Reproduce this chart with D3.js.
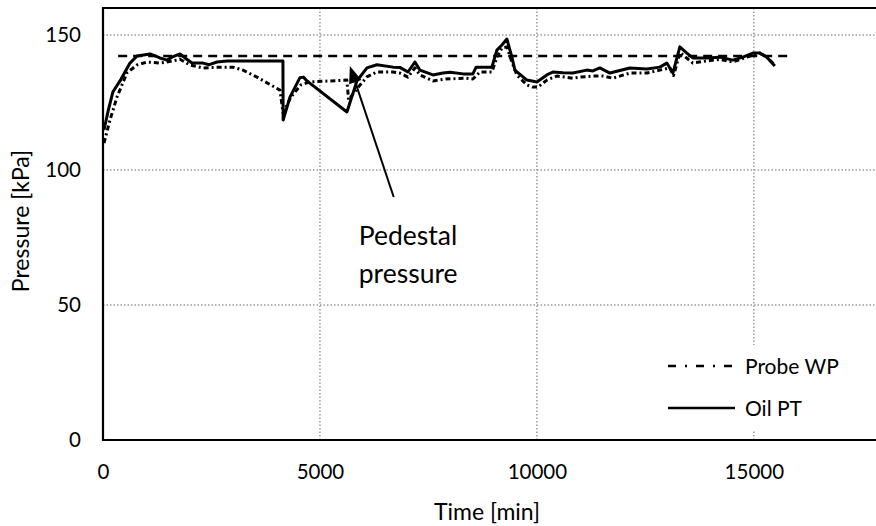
<!DOCTYPE html>
<html>
<head>
<meta charset="utf-8">
<script src="https://cdn.jsdelivr.net/npm/d3@7"></script>
<style>
  html, body { margin: 0; padding: 0; background: #fff; }
  svg { display: block; font-family: Lato, "Open Sans", sans-serif; }
</style>
</head>
<body>
<svg id="chart" width="876" height="526"></svg>
<script>
// Time [min] / pressure [kPa] pairs for each series
const oilPT = [
  [23,114.8],[120,122],[230,129],[392,133],[622,139.6],[783,142.2],[1083,143],[1313,141.5],
  [1475,140.7],[1590,141.8],[1774,143],[1889,141.5],[2051,139.6],[2304,139.6],[2450,139],
  [2627,140],[2857,140.4],[3157,140.4],[4147,140.4],[4152,118.5],[4309,127],[4539,134.2],
  [4620,134.4],[4700,133],[5622,121.5],[5853,133],[6083,137.8],[6313,139],[6682,138.1],
  [6843,138],[7028,136.3],[7189,140],[7304,137],[7604,135.2],[7834,135.9],[8000,136.2],
  [8300,135.6],[8525,135.6],[8600,138.1],[8963,138.1],[9078,144.4],[9194,146.3],[9309,148.5],
  [9424,141.8],[9493,137],[9770,133.3],[10000,132.6],[10230,135.2],[10369,136.3],[10600,136],
  [10829,135.9],[11152,137],[11290,136.7],[11452,137.8],[11682,135.9],[12143,137.8],
  [12535,137.4],[12834,138.1],[12995,139.6],[13134,135.9],[13295,145.6],[13456,143.3],
  [13594,141.5],[13917,141.5],[14217,141.8],[14516,140.7],[14747,141.8],[14977,143.3],
  [15138,143.3],[15300,141.8],[15484,138.5]
];

const probeWP = [
  [23,110],[161,118.5],[322,127],[553,136],[783,138.9],[1014,140],[1313,139.6],[1613,140.4],
  [1774,141],[2005,138.9],[2304,137.8],[2696,138.1],[2995,138.1],[3226,137],[3548,134.4],
  [4078,129.6],[4152,121],[4330,127],[4560,131.5],[4750,132.6],[5620,133.3],[5660,126],
  [5900,131],[6083,134.5],[6313,136.3],[6682,136.3],[6843,135.9],[7028,134.4],[7189,137.8],
  [7304,135.2],[7604,133],[7900,133.7],[8370,134],[8525,133.7],[8687,136.3],[8963,136.3],
  [9078,141.8],[9194,145.2],[9309,145.6],[9424,140],[9539,135.2],[9770,131.5],[9908,130.7],
  [10023,130.7],[10230,133.3],[10461,134.8],[10829,134],[10991,134.4],[11290,134.8],
  [11520,134.8],[11751,134],[12143,135.9],[12535,135.9],[12834,137],[13065,137.8],
  [13150,135],[13300,143.5],[13594,139.6],[13917,140.4],[14217,141],[14516,140],
  [14839,141.8],[15138,143.3],[15300,141.8],[15484,138.8]
];

// Pedestal pressure reference level
const pedestalLevel = [[350,142.2],[15880,142.2]];

const xTicks = [0, 5000, 10000, 15000];
const yTicks = [0, 50, 100, 150];
const xDomain = [0, 18000];
const yDomain = [0, 160];

// Annotation: arrow tail/tip and label lines (data units)
const arrowTail = [6700, 90];
const arrowTip = [5690, 138.5];
const noteLines = ["Pedestal", "pressure"];
const notePos = [5895, 72.2];

const svg = d3.select("#chart");
const x = d3.scaleLinear().domain(xDomain).range([103, 884]);
const y = d3.scaleLinear().domain(yDomain).range([440, 8]);

// Grid
const grid = svg.append("g")
  .attr("stroke", "#9a9a9a").attr("stroke-width", 1.5).attr("stroke-dasharray", "1.5,2");
grid.selectAll(".gx").data(xTicks.filter(d => d > 0)).join("line")
  .attr("x1", d => x(d)).attr("x2", d => x(d)).attr("y1", y(yDomain[1])).attr("y2", y(0));
grid.selectAll(".gy").data(yTicks.filter(d => d > 0)).join("line")
  .attr("x1", x(0)).attr("x2", x(xDomain[1])).attr("y1", d => y(d)).attr("y2", d => y(d));

// Axis labels
const xAxis = svg.append("g").attr("transform", `translate(0,${y(0)})`)
  .call(d3.axisBottom(x).tickValues(xTicks).tickSize(0).tickPadding(24).tickFormat(d3.format("d")));
const yAxis = svg.append("g").attr("transform", `translate(${x(0)},0)`)
  .call(d3.axisLeft(y).tickValues(yTicks).tickSize(0).tickPadding(22));
[xAxis, yAxis].forEach(a => {
  a.select(".domain").remove();
  a.selectAll("text").attr("font-size", 20.5).attr("font-family", "Lato").attr("fill", "#000");
});

const line = d3.line().x(d => x(d[0])).y(d => y(d[1]));

svg.append("path").datum(pedestalLevel).attr("d", line)
  .attr("fill", "none").attr("stroke", "#000").attr("stroke-width", 2.6)
  .attr("stroke-dasharray", "9,6");

svg.append("path").datum(probeWP).attr("d", line)
  .attr("fill", "none").attr("stroke", "#000").attr("stroke-width", 3)
  .attr("stroke-dasharray", "5,3,2,3").attr("stroke-linejoin", "round");

svg.append("path").datum(oilPT).attr("d", line)
  .attr("fill", "none").attr("stroke", "#000").attr("stroke-width", 3)
  .attr("stroke-linejoin", "round");

// Plot frame: left, top and bottom edges (the right edge lies past the canvas)
const frame = svg.append("g").attr("stroke", "#000").attr("stroke-width", 2.2).attr("fill", "none");
frame.append("path")
  .attr("d", `M${x(xDomain[1])},${y(yDomain[1])}H${x(0)}V${y(0)}H${x(xDomain[1])}`);

// Axis titles
svg.append("text").attr("x", 487).attr("y", 520).attr("text-anchor", "middle")
  .attr("font-size", 23).text("Time [min]");
svg.append("text").attr("transform", "translate(29,221) rotate(-90)").attr("text-anchor", "middle")
  .attr("font-size", 23).text("Pressure [kPa]");

// Arrow annotation
const tx = x(arrowTail[0]), ty = y(arrowTail[1]);
const hx = x(arrowTip[0]), hy = y(arrowTip[1]);
const ang = Math.atan2(hy - ty, hx - tx);
const headLen = 17, headW = 6.5;
const bx = hx - headLen * Math.cos(ang), by = hy - headLen * Math.sin(ang);
svg.append("line").attr("x1", tx).attr("y1", ty).attr("x2", bx).attr("y2", by)
  .attr("stroke", "#000").attr("stroke-width", 2);
svg.append("polygon")
  .attr("points", [
    [hx, hy],
    [bx + headW * Math.sin(ang), by - headW * Math.cos(ang)],
    [bx - headW * Math.sin(ang), by + headW * Math.cos(ang)]
  ].map(p => p.join(",")).join(" "))
  .attr("fill", "#000");

svg.append("g").selectAll("text").data(noteLines).join("text")
  .attr("x", x(notePos[0])).attr("y", (d, i) => y(notePos[1]) + i * 38)
  .attr("font-size", 26.5).text(d => d);

// Legend
const legend = svg.append("g");
legend.append("rect").attr("x", 655).attr("y", 345).attr("width", 230).attr("height", 86).attr("fill", "#fff");
const legendItems = [
  { name: "Probe WP", dash: "8,9,2,9", y: 366 },
  { name: "Oil PT", dash: null, y: 408 }
];
legendItems.forEach(d => {
  legend.append("line").attr("x1", 668).attr("x2", 735).attr("y1", d.y).attr("y2", d.y)
    .attr("stroke", "#000").attr("stroke-width", 2.6).attr("stroke-dasharray", d.dash);
  legend.append("text").attr("x", 745).attr("y", d.y + 7.5).attr("font-size", 21).text(d.name);
});
</script>
</body>
</html>
